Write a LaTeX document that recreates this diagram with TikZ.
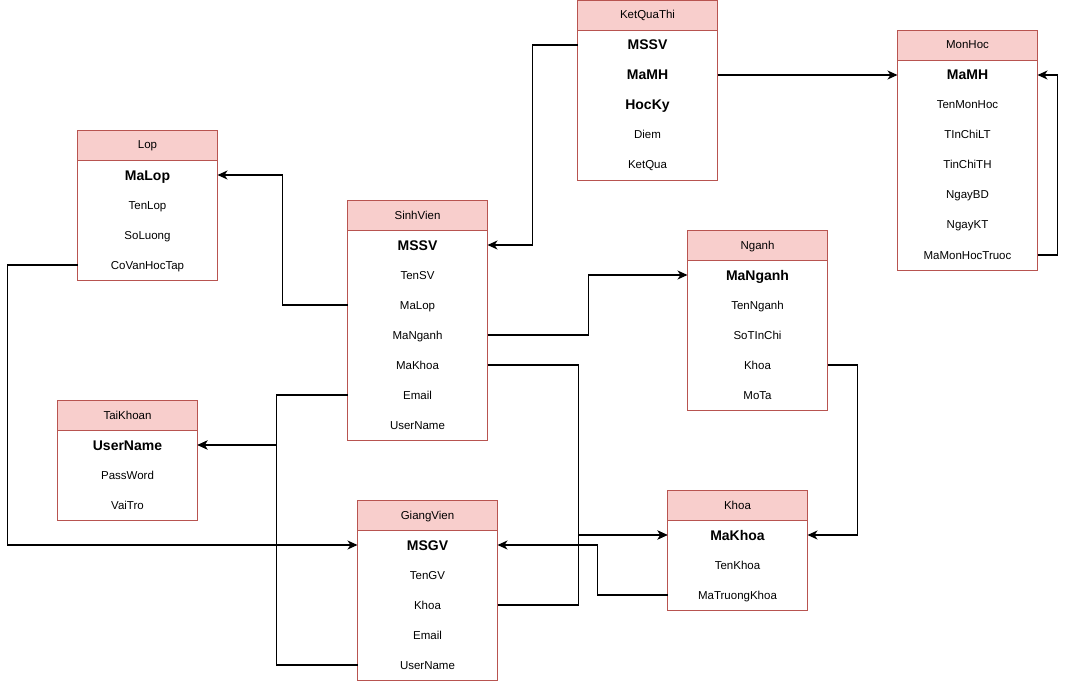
\documentclass[tikz,border=0pt]{standalone}
\usepackage{fontspec}
\setmainfont{Liberation Sans}
\usetikzlibrary{positioning,arrows.meta}

\definecolor{hdrfill}{HTML}{F8CECC}
\definecolor{hdrline}{HTML}{B85450}

\tikzset{
  hdr/.style={draw=hdrline, fill=hdrfill, minimum width=140pt, minimum height=30pt,
    text height=10.5pt, text depth=2.5pt,
    inner sep=0pt, outer sep=0pt, font=\fontsize{11.5}{13}\selectfont},
  row/.style={minimum width=140pt, minimum height=30pt, inner sep=0pt, outer sep=0pt,
    text height=10.5pt, text depth=2.5pt, font=\fontsize{11.5}{13}\selectfont},
  key/.style={row, text height=13pt, text depth=3pt, font=\fontsize{14}{16}\selectfont\bfseries},
  tbl/.style={draw=hdrline, line width=0.8pt},
  link/.style={draw=black, line width=1.2pt, -{Stealth[length=10pt,width=9pt,inset=3pt]}}
}

\begin{document}
\begin{tikzpicture}[x=1pt,y=-1pt]
    \useasboundingbox (0,0) rectangle (1066,682);

    % KetQuaThi
    \node[hdr] (kq) at (647.5,15) {KetQuaThi};
    \node[key, below=0pt of kq] (kq-mssv) {MSSV};
    \node[key, below=0pt of kq-mssv] (kq-mamh) {MaMH};
    \node[key, below=0pt of kq-mamh] (kq-hocky) {HocKy};
    \node[row, below=0pt of kq-hocky] (kq-diem) {Diem};
    \node[row, below=0pt of kq-diem] (kq-ketqua) {KetQua};
    \draw[tbl] (kq.south west) rectangle (kq-ketqua.south east);

    % MonHoc
    \node[hdr] (mh) at (967.5,45) {MonHoc};
    \node[key, below=0pt of mh] (mh-mamh) {MaMH};
    \node[row, below=0pt of mh-mamh] (mh-ten) {TenMonHoc};
    \node[row, below=0pt of mh-ten] (mh-lt) {TInChiLT};
    \node[row, below=0pt of mh-lt] (mh-th) {TinChiTH};
    \node[row, below=0pt of mh-th] (mh-bd) {NgayBD};
    \node[row, below=0pt of mh-bd] (mh-kt) {NgayKT};
    \node[row, below=0pt of mh-kt] (mh-truoc) {MaMonHocTruoc};
    \draw[tbl] (mh.south west) rectangle (mh-truoc.south east);

    % Lop
    \node[hdr] (lop) at (147.5,145) {Lop};
    \node[key, below=0pt of lop] (lop-malop) {MaLop};
    \node[row, below=0pt of lop-malop] (lop-ten) {TenLop};
    \node[row, below=0pt of lop-ten] (lop-sl) {SoLuong};
    \node[row, below=0pt of lop-sl] (lop-covan) {CoVanHocTap};
    \draw[tbl] (lop.south west) rectangle (lop-covan.south east);

    % SinhVien
    \node[hdr] (sv) at (417.5,215) {SinhVien};
    \node[key, below=0pt of sv] (sv-mssv) {MSSV};
    \node[row, below=0pt of sv-mssv] (sv-ten) {TenSV};
    \node[row, below=0pt of sv-ten] (sv-malop) {MaLop};
    \node[row, below=0pt of sv-malop] (sv-manganh) {MaNganh};
    \node[row, below=0pt of sv-manganh] (sv-makhoa) {MaKhoa};
    \node[row, below=0pt of sv-makhoa] (sv-email) {Email};
    \node[row, below=0pt of sv-email] (sv-user) {UserName};
    \draw[tbl] (sv.south west) rectangle (sv-user.south east);

    % Nganh
    \node[hdr] (ng) at (757.5,245) {Nganh};
    \node[key, below=0pt of ng] (ng-manganh) {MaNganh};
    \node[row, below=0pt of ng-manganh] (ng-ten) {TenNganh};
    \node[row, below=0pt of ng-ten] (ng-stc) {SoTInChi};
    \node[row, below=0pt of ng-stc] (ng-khoa) {Khoa};
    \node[row, below=0pt of ng-khoa] (ng-mota) {MoTa};
    \draw[tbl] (ng.south west) rectangle (ng-mota.south east);

    % TaiKhoan
    \node[hdr] (tk) at (127.5,415) {TaiKhoan};
    \node[key, below=0pt of tk] (tk-user) {UserName};
    \node[row, below=0pt of tk-user] (tk-pass) {PassWord};
    \node[row, below=0pt of tk-pass] (tk-vaitro) {VaiTro};
    \draw[tbl] (tk.south west) rectangle (tk-vaitro.south east);

    % GiangVien
    \node[hdr] (gv) at (427.5,515) {GiangVien};
    \node[key, below=0pt of gv] (gv-msgv) {MSGV};
    \node[row, below=0pt of gv-msgv] (gv-ten) {TenGV};
    \node[row, below=0pt of gv-ten] (gv-khoa) {Khoa};
    \node[row, below=0pt of gv-khoa] (gv-email) {Email};
    \node[row, below=0pt of gv-email] (gv-user) {UserName};
    \draw[tbl] (gv.south west) rectangle (gv-user.south east);

    % Khoa
    \node[hdr] (kh) at (737.5,505) {Khoa};
    \node[key, below=0pt of kh] (kh-makhoa) {MaKhoa};
    \node[row, below=0pt of kh-makhoa] (kh-ten) {TenKhoa};
    \node[row, below=0pt of kh-ten] (kh-truong) {MaTruongKhoa};
    \draw[tbl] (kh.south west) rectangle (kh-truong.south east);

    % links
    \draw[link] (kq-mssv.west) -- ++(-45,0) |- (sv-mssv.east);
    \draw[link] (kq-mamh.east) -- (mh-mamh.west);
    \draw[link] (mh-truoc.east) -- ++(20,0) |- (mh-mamh.east);
    \draw[link] (sv-malop.west) -- ++(-65,0) |- (lop-malop.east);
    \draw[link] (sv-manganh.east) -- ++(101,0) |- (ng-manganh.west);
    \draw[link] (sv-makhoa.east) -- ++(91,0) |- (kh-makhoa.west);
    \draw[link] (sv-email.west) -- ++(-71,0) |- (tk-user.east);
    \draw[link] (gv-user.west) -- ++(-81,0) |- (tk-user.east);
    \draw[link] (lop-covan.west) -- ++(-70,0) |- (gv-msgv.west);
    \draw[link] (ng-khoa.east) -- ++(30,0) |- (kh-makhoa.east);
    \draw[link] (gv-khoa.east) -- ++(81,0) |- (kh-makhoa.west);
    \draw[link] (kh-truong.west) -- ++(-70,0) |- (gv-msgv.east);
\end{tikzpicture}
\end{document}
